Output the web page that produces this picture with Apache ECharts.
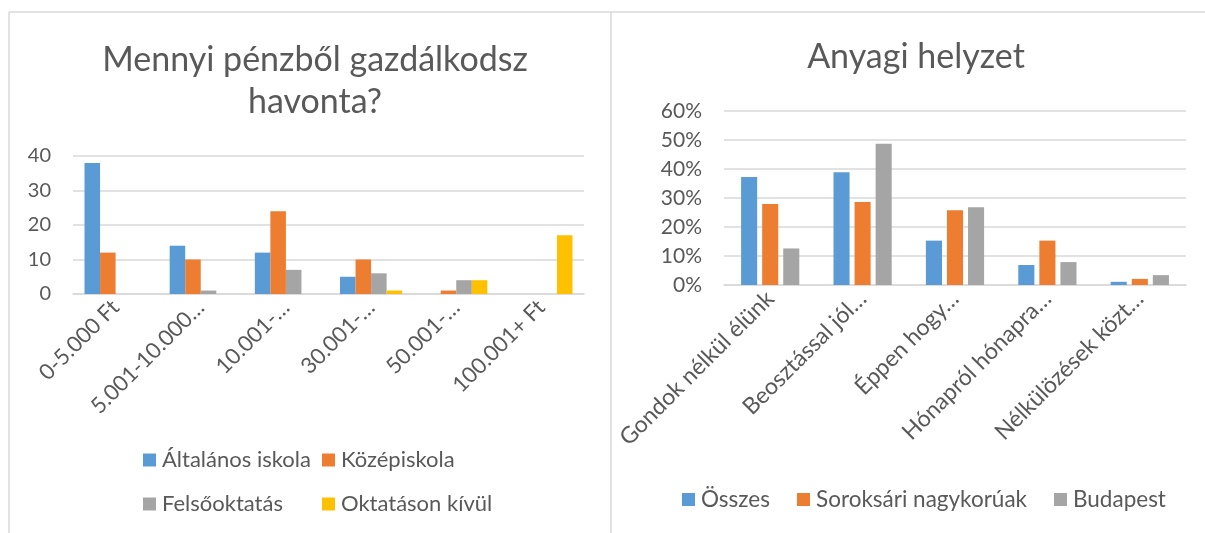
<!DOCTYPE html>
<html>
<head>
<meta charset="utf-8">
<script src="https://cdn.jsdelivr.net/npm/echarts@6/dist/echarts.min.js"></script>
<style>
  html, body { margin: 0; padding: 0; background: #ffffff; }
  #chart { width: 1205px; height: 533px; }
</style>
</head>
<body>
<div id="chart"></div>
<script>
// ---- Data ----
const leftTitle = 'Mennyi pénzből gazdálkodsz\nhavonta?';
const leftCategories = ['0-5.000 Ft', '5.001-10.000…', '10.001-…', '30.001-…', '50.001-…', '100.001+ Ft'];
const leftSeriesNames = ['Általános iskola', 'Középiskola', 'Felsőoktatás', 'Oktatáson kívül'];
const altalanos = [38, 14, 12, 5, 0, 0];
const kozep = [12, 10, 24, 10, 1, 0];
const felso = [0, 1, 7, 6, 4, 0];
const kivul = [0, 0, 0, 1, 4, 17];
const leftTicks = [0, 10, 20, 30, 40];

const rightTitle = 'Anyagi helyzet';
const rightCategories = ['Gondok nélkül élünk', 'Beosztással jól…', 'Éppen hogy…', 'Hónapról hónapra…', 'Nélkülözések közt…'];
const rightSeriesNames = ['Összes', 'Soroksári nagykorúak', 'Budapest'];
const osszes = [37.2, 38.9, 15.3, 6.9, 1.1];
const soroksari = [27.9, 28.6, 25.8, 15.3, 2.1];
const budapest = [12.6, 48.7, 26.8, 7.9, 3.4];
const rightTicks = [0, 10, 20, 30, 40, 50, 60];

// ---- Styles ----
const FONT = 'Lato';
const TXT = '#595959';
const GRIDC = '#d9d9d9';
const colors = ['#5B9BD5', '#ED7D31', '#A5A5A5', '#FFC000'];

const chart = echarts.init(document.getElementById('chart'), null, { renderer: 'canvas' });

function catAxis(gridIndex, data, fs) {
  return {
    type: 'category', gridIndex, data,
    axisLine: { show: true, lineStyle: { color: GRIDC, width: 1.5 } },
    axisTick: { show: false },
    axisLabel: { rotate: 45, color: TXT, fontFamily: FONT, fontSize: fs, margin: 10, interval: 0 }
  };
}
function valAxis(gridIndex, ticks, fmt, fs) {
  return {
    type: 'value', gridIndex,
    min: ticks[0], max: ticks[ticks.length - 1], interval: ticks[1] - ticks[0],
    axisLine: { show: false }, axisTick: { show: false },
    splitLine: { lineStyle: { color: GRIDC, width: 1.5 } },
    axisLabel: { color: TXT, fontFamily: FONT, fontSize: fs, margin: 22, formatter: fmt }
  };
}

const leftData = [altalanos, kozep, felso, kivul];
const rightData = [osszes, soroksari, budapest];

const series = [];
leftSeriesNames.forEach((n, i) => series.push({
  name: n, type: 'bar', xAxisIndex: 0, yAxisIndex: 0, data: leftData[i],
  itemStyle: { color: colors[i] }, barGap: '0%', barCategoryGap: '27%'
}));
rightSeriesNames.forEach((n, i) => series.push({
  name: n, type: 'bar', xAxisIndex: 1, yAxisIndex: 1, data: rightData[i],
  itemStyle: { color: colors[i] }, barGap: '31%', barCategoryGap: '37%'
}));

function legendItem(name, x, yCenter, fs) {
  return {
    data: [name], left: x, top: yCenter - Math.round(fs * 0.65), itemWidth: 13, itemHeight: 13,
    icon: 'rect', padding: 0, itemGap: 0,
    textStyle: { color: TXT, fontFamily: FONT, fontSize: fs, padding: [0, 0, 0, 1] }
  };
}

const legendPosL = [[143, 463], [322, 463], [143, 507], [322, 507]];
const legendPosR = [[682, 503], [797, 503], [1054, 503]];

chart.setOption({
  animation: false,
  backgroundColor: '#ffffff',
  textStyle: { fontFamily: FONT },
  title: [
    { text: leftTitle, left: 310, top: 34, textAlign: 'center',
      textStyle: { color: TXT, fontFamily: FONT, fontSize: 34, fontWeight: 'normal', lineHeight: 42 } },
    { text: rightTitle, left: 911, top: 31, textAlign: 'center',
      textStyle: { color: TXT, fontFamily: FONT, fontSize: 34, fontWeight: 'normal', lineHeight: 42 } }
  ],
  legend: leftSeriesNames.map((n, i) => legendItem(n, legendPosL[i][0], legendPosL[i][1], 22))
    .concat(rightSeriesNames.map((n, i) => legendItem(n, legendPosR[i][0], legendPosR[i][1], 22.5))),
  grid: [
    { left: 73, width: 511, top: 156, height: 138 },
    { left: 724, width: 462, top: 111, height: 174 }
  ],
  xAxis: [catAxis(0, leftCategories, 22), catAxis(1, rightCategories, 23)],
  yAxis: [valAxis(0, leftTicks, '{value}', 20), valAxis(1, rightTicks, '{value}%', 21)],
  series,
  graphic: [
    { type: 'line', shape: { x1: 9, y1: 12, x2: 1205, y2: 12 }, style: { stroke: GRIDC, lineWidth: 1.5 } },
    { type: 'line', shape: { x1: 9, y1: 12, x2: 9, y2: 533 }, style: { stroke: GRIDC, lineWidth: 1.5 } },
    { type: 'line', shape: { x1: 611, y1: 12, x2: 611, y2: 533 }, style: { stroke: GRIDC, lineWidth: 1.5 } }
  ]
});
</script>
</body>
</html>
